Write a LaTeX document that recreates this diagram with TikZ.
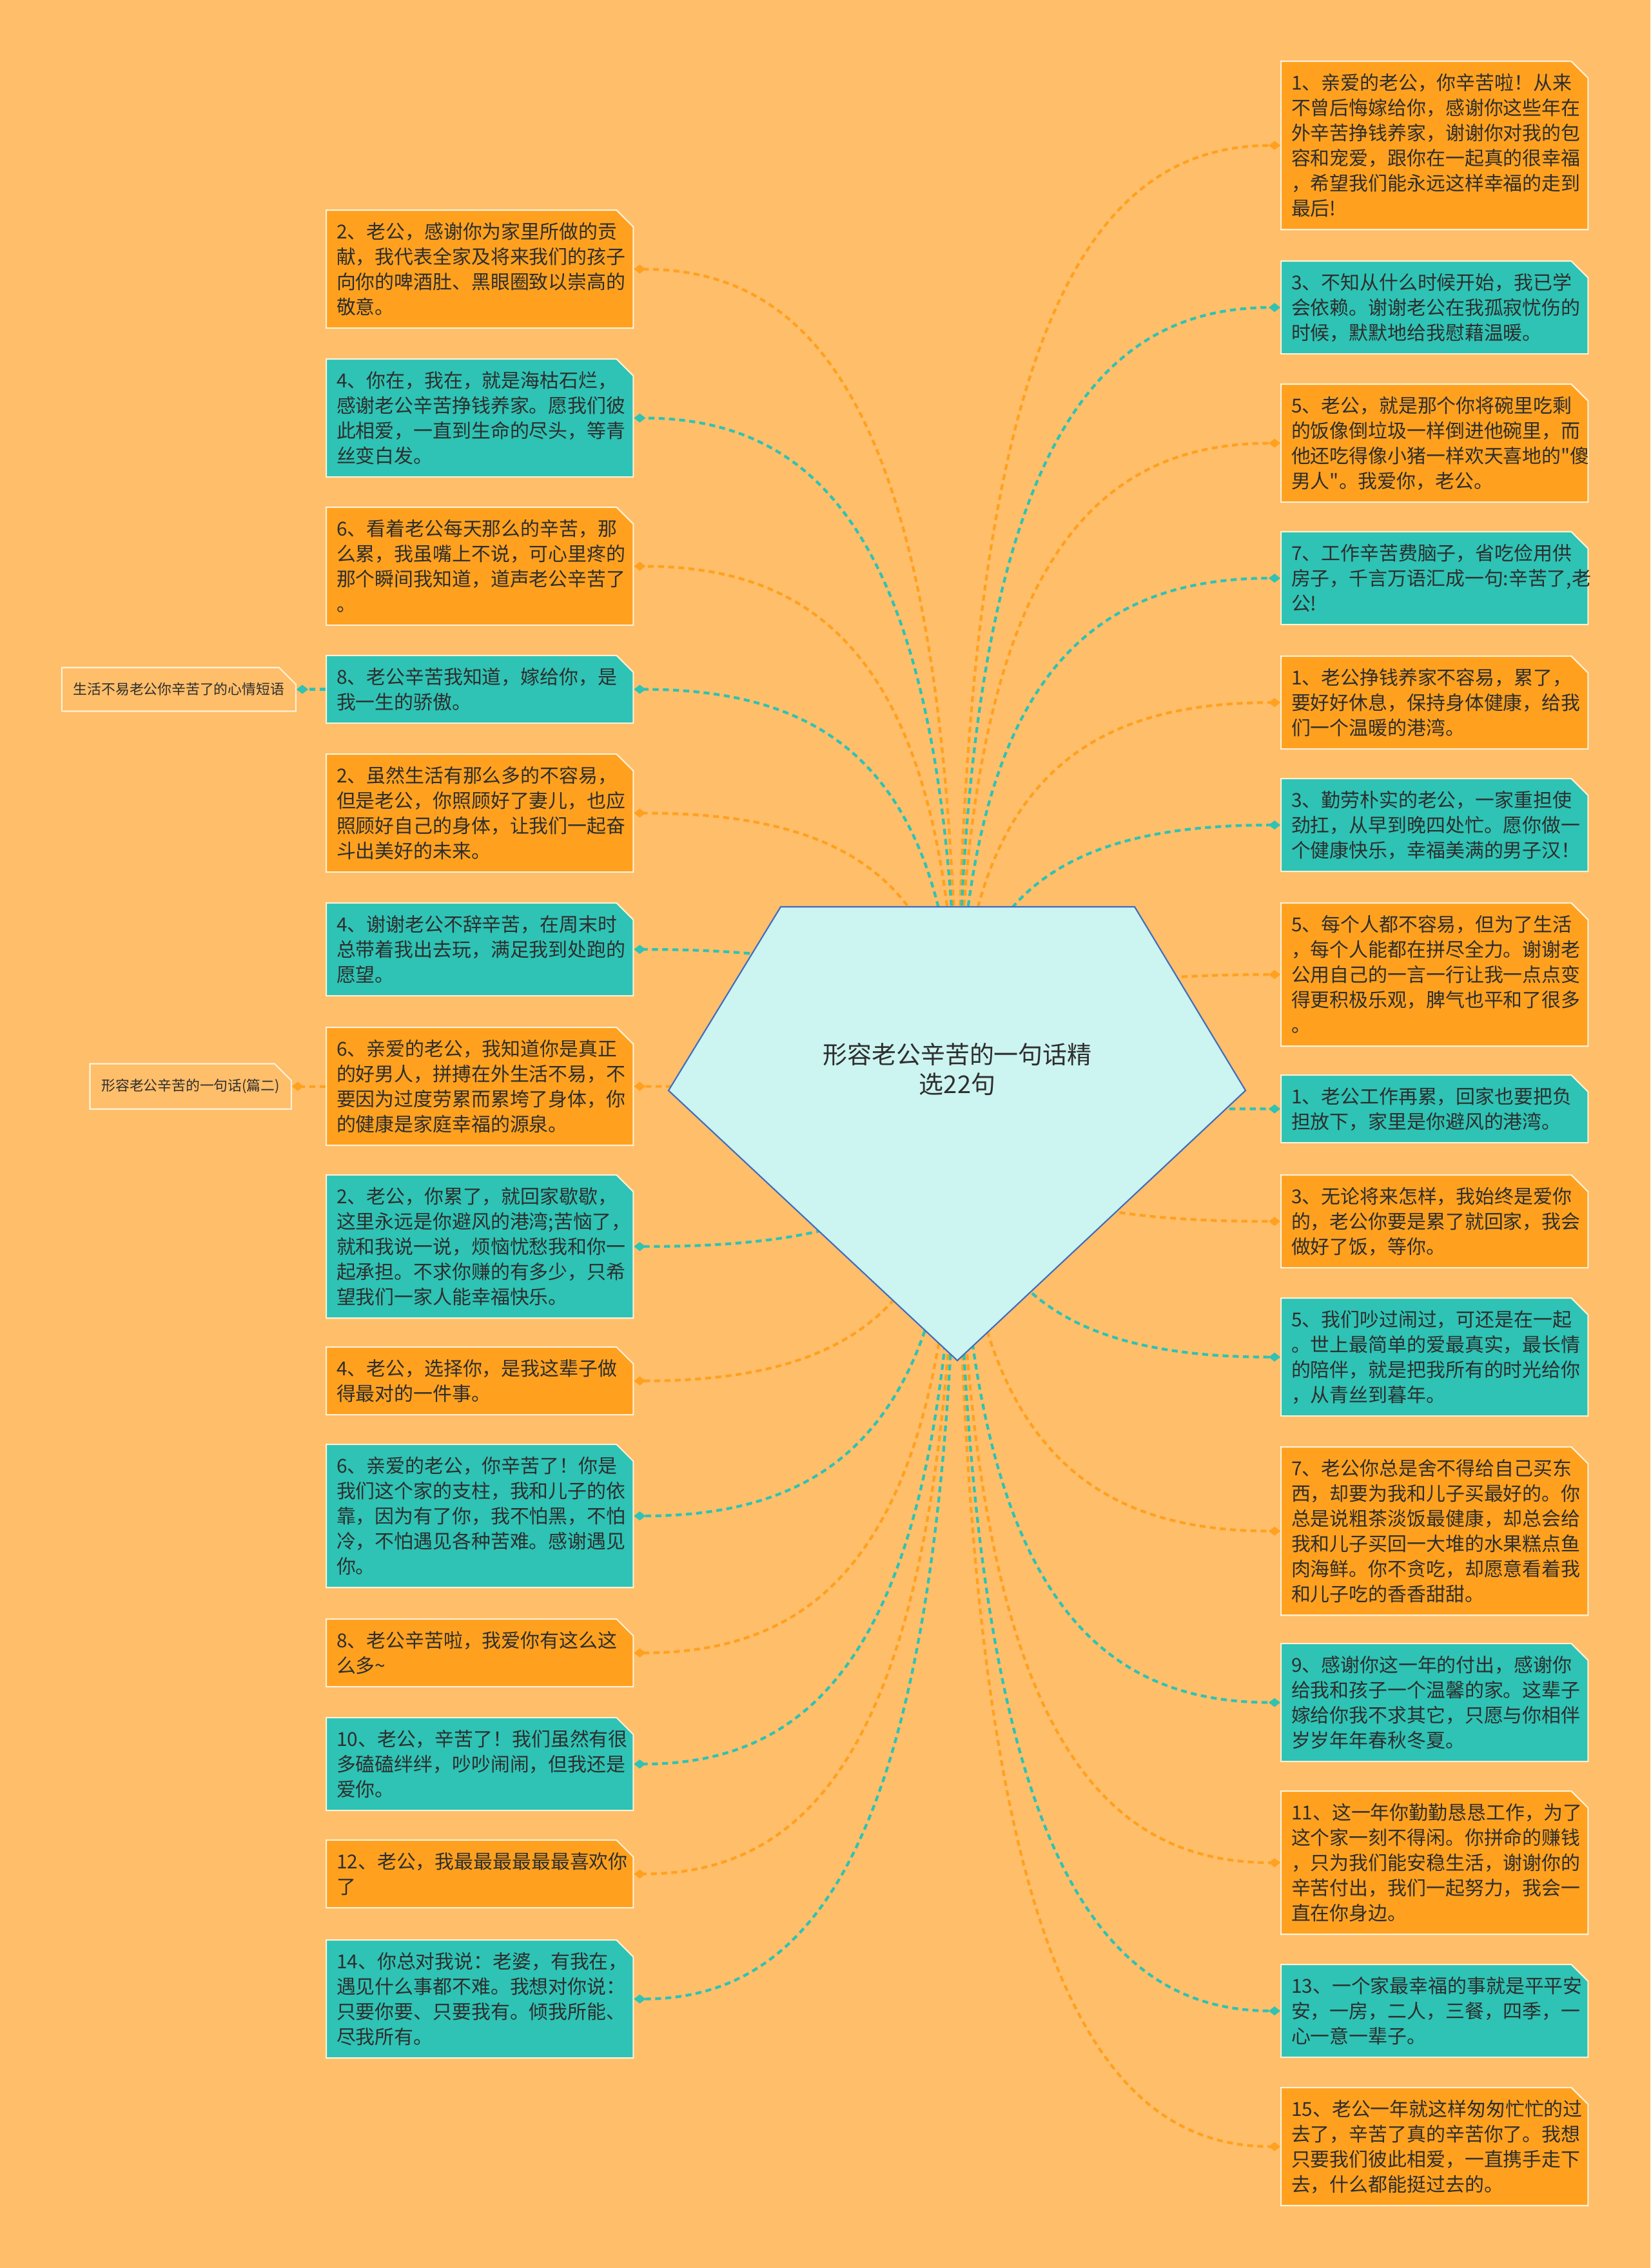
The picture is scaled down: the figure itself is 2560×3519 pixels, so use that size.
\documentclass[tikz,border=0pt]{standalone}
\usepackage{fontspec}
\setmainfont{Noto Sans CJK SC}
\usetikzlibrary{shapes.misc,arrows.meta,calc,positioning}

\definecolor{paper}{HTML}{FEBE6A}
\definecolor{warm}{HTML}{FFA11F}
\definecolor{sea}{HTML}{2EC3B4}
\definecolor{ice}{HTML}{CCF4F0}
\definecolor{rim}{HTML}{FFF1D8}
\definecolor{hubline}{HTML}{3D6CC0}
\definecolor{ink}{HTML}{2E2E2E}

\tikzset{
  card/.style={chamfered rectangle, chamfered rectangle corners=north east,
    chamfered rectangle xsep=0.14cm, chamfered rectangle ysep=0.12cm,
    draw=rim, line width=0.6pt, inner xsep=0.02cm, inner ysep=0.02cm,
    anchor=north west, minimum width=4.76cm, text width=4.44cm, align=left,
    text=ink, font=\fontsize{8.5pt}{11.1pt}\selectfont},
  tall/.style={minimum height=#1*0.39cm+0.27cm},
  hot/.style={card, fill=warm},
  cool/.style={card, fill=sea},
  tag/.style={chamfered rectangle, chamfered rectangle corners=north east,
    chamfered rectangle xsep=0.14cm, chamfered rectangle ysep=0.12cm,
    draw=rim, line width=0.6pt, inner xsep=0.04cm, minimum height=0.52cm,
    text=ink, font=\fontsize{6.2pt}{7.5pt}\selectfont},
  wire/.style={line width=1.2pt, dash pattern=on 2.6pt off 1.9pt,
    -{Diamond[length=0.18cm,width=0.14cm]}},
  owire/.style={wire, draw=warm},
  twire/.style={wire, draw=sea},
  curve/.style={to path={.. controls ($(\tikztostart)!0.8!(\tikztostart|-\tikztotarget)$)
    and ($(\tikztotarget)!0.6!(\tikztostart|-\tikztotarget)$) .. (\tikztotarget)}},
  hub/.style={fill=ice, draw=hubline, line width=0.6pt},
  title/.style={align=center, text=ink, font=\fontsize{10.8pt}{13.3pt}\selectfont}
}

\begin{document}
\begin{tikzpicture}[x=0.01cm, y=-0.01cm]
  \useasboundingbox (0,0) rectangle (2560,3519);
  \fill[paper] (0,0) rectangle (2560,3519);

  \coordinate (root) at (1485,1690);

  % left column
  \node[hot, tall=4] (l1) at (505,325) {2、老公，感谢你为家里所做的贡\\献，我代表全家及将来我们的孩子\\向你的啤酒肚、黑眼圈致以崇高的\\敬意。};
  \node[cool, tall=4] (l2) at (505,556) {4、你在，我在，就是海枯石烂，\\感谢老公辛苦挣钱养家。愿我们彼\\此相爱，一直到生命的尽头，等青\\丝变白发。};
  \node[hot, tall=4] (l3) at (505,786) {6、看着老公每天那么的辛苦，那\\么累，我虽嘴上不说，可心里疼的\\那个瞬间我知道，道声老公辛苦了\\。};
  \node[cool, tall=2] (l4) at (505,1016) {8、老公辛苦我知道，嫁给你，是\\我一生的骄傲。};
  \node[hot, tall=4] (l5) at (505,1169) {2、虽然生活有那么多的不容易，\\但是老公，你照顾好了妻儿，也应\\照顾好自己的身体，让我们一起奋\\斗出美好的未来。};
  \node[cool, tall=3] (l6) at (505,1400) {4、谢谢老公不辞辛苦，在周末时\\总带着我出去玩，满足我到处跑的\\愿望。};
  \node[hot, tall=4] (l7) at (505,1593) {6、亲爱的老公，我知道你是真正\\的好男人，拼搏在外生活不易，不\\要因为过度劳累而累垮了身体，你\\的健康是家庭幸福的源泉。};
  \node[cool, tall=5] (l8) at (505,1822) {2、老公，你累了，就回家歇歇，\\这里永远是你避风的港湾;苦恼了，\\就和我说一说，烦恼忧愁我和你一\\起承担。不求你赚的有多少，只希\\望我们一家人能幸福快乐。};
  \node[hot, tall=2] (l9) at (505,2089) {4、老公，选择你，是我这辈子做\\得最对的一件事。};
  \node[cool, tall=5] (l10) at (505,2240) {6、亲爱的老公，你辛苦了！你是\\我们这个家的支柱，我和儿子的依\\靠，因为有了你，我不怕黑，不怕\\冷，不怕遇见各种苦难。感谢遇见\\你。};
  \node[hot, tall=2] (l11) at (505,2511) {8、老公辛苦啦，我爱你有这么这\\么多\textasciitilde};
  \node[cool, tall=3] (l12) at (505,2664) {10、老公，辛苦了！我们虽然有很\\多磕磕绊绊，吵吵闹闹，但我还是\\爱你。};
  \node[hot, tall=2] (l13) at (505,2854) {12、老公，我最最最最最最喜欢你\\了};
  \node[cool, tall=4] (l14) at (505,3009) {14、你总对我说：老婆，有我在，\\遇见什么事都不难。我想对你说：\\只要你要、只要我有。倾我所能、\\尽我所有。};

  % right column
  \node[hot, tall=6] (r1) at (1986,94) {1、亲爱的老公，你辛苦啦！从来\\不曾后悔嫁给你，感谢你这些年在\\外辛苦挣钱养家，谢谢你对我的包\\容和宠爱，跟你在一起真的很幸福\\，希望我们能永远这样幸福的走到\\最后!};
  \node[cool, tall=3] (r2) at (1986,404) {3、不知从什么时候开始，我已学\\会依赖。谢谢老公在我孤寂忧伤的\\时候，默默地给我慰藉温暖。};
  \node[hot, tall=4] (r3) at (1986,595) {5、老公，就是那个你将碗里吃剩\\的饭像倒垃圾一样倒进他碗里，而\\他还吃得像小猪一样欢天喜地的\textquotedbl 傻\\男人\textquotedbl。我爱你，老公。};
  \node[cool, tall=3] (r4) at (1986,824) {7、工作辛苦费脑子，省吃俭用供\\房子，千言万语汇成一句:辛苦了,老\\公!};
  \node[hot, tall=3] (r5) at (1986,1017) {1、老公挣钱养家不容易，累了，\\要好好休息，保持身体健康，给我\\们一个温暖的港湾。};
  \node[cool, tall=3] (r6) at (1986,1207) {3、勤劳朴实的老公，一家重担使\\劲扛，从早到晚四处忙。愿你做一\\个健康快乐，幸福美满的男子汉！};
  \node[hot, tall=5] (r7) at (1986,1400) {5、每个人都不容易，但为了生活\\，每个人能都在拼尽全力。谢谢老\\公用自己的一言一行让我一点点变\\得更积极乐观，脾气也平和了很多\\。};
  \node[cool, tall=2] (r8) at (1986,1667) {1、老公工作再累，回家也要把负\\担放下，家里是你避风的港湾。};
  \node[hot, tall=3] (r9) at (1986,1822) {3、无论将来怎样，我始终是爱你\\的，老公你要是累了就回家，我会\\做好了饭，等你。};
  \node[cool, tall=4] (r10) at (1986,2013) {5、我们吵过闹过，可还是在一起\\。世上最简单的爱最真实，最长情\\的陪伴，就是把我所有的时光给你\\，从青丝到暮年。};
  \node[hot, tall=6] (r11) at (1986,2244) {7、老公你总是舍不得给自己买东\\西，却要为我和儿子买最好的。你\\总是说粗茶淡饭最健康，却总会给\\我和儿子买回一大堆的水果糕点鱼\\肉海鲜。你不贪吃，却愿意看着我\\和儿子吃的香香甜甜。};
  \node[cool, tall=4] (r12) at (1986,2549) {9、感谢你这一年的付出，感谢你\\给我和孩子一个温馨的家。这辈子\\嫁给你我不求其它，只愿与你相伴\\岁岁年年春秋冬夏。};
  \node[hot, tall=5] (r13) at (1986,2778) {11、这一年你勤勤恳恳工作，为了\\这个家一刻不得闲。你拼命的赚钱\\，只为我们能安稳生活，谢谢你的\\辛苦付出，我们一起努力，我会一\\直在你身边。};
  \node[cool, tall=3] (r14) at (1986,3047) {13、一个家最幸福的事就是平平安\\安，一房，二人，三餐，四季，一\\心一意一辈子。};
  \node[hot, tall=4] (r15) at (1986,3238) {15、老公一年就这样匆匆忙忙的过\\去了，辛苦了真的辛苦你了。我想\\只要我们彼此相爱，一直携手走下\\去，什么都能挺过去的。};

  % side tags
  \node[tag, left=0.45cm of l4] (s1) {生活不易老公你辛苦了的心情短语};
  \node[tag, left=0.52cm of l7] (s2) {形容老公辛苦的一句话(篇二)};
  \draw[twire] (l4.west) -- (s1.east);
  \draw[owire] (l7.west) -- (s2.east);

  % links from the hub
  \foreach \card in {r1,r3,r5,r7,r9,r11,r13,r15} \draw[owire, curve] (root) to (\card.west);
  \foreach \card in {r2,r4,r6,r8,r10,r12,r14} \draw[twire, curve] (root) to (\card.west);
  \foreach \card in {l1,l3,l5,l7,l9,l11,l13} \draw[owire, curve] (root) to (\card.east);
  \foreach \card in {l2,l4,l6,l8,l10,l12,l14} \draw[twire, curve] (root) to (\card.east);

  \draw[hub] (1211,1407) -- (1760,1407) -- (1932,1692) -- (1485,2111) -- (1037,1692) -- cycle;
  \node[title] (title) at (1485,1659) {形容老公辛苦的一句话精\\选22句};
\end{tikzpicture}
\end{document}
